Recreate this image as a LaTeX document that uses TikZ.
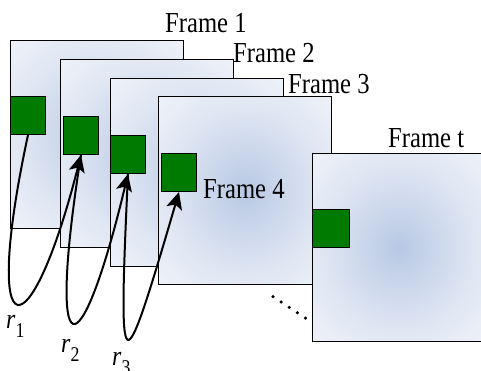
\documentclass[tikz,border=0pt]{standalone}
\usepackage{fontspec}
\setmainfont[FakeStretch=0.85]{Liberation Serif}
\usetikzlibrary{arrows.meta}
\definecolor{fblue}{RGB}{184,200,228}
\definecolor{patchgreen}{RGB}{0,122,0}
\pgfdeclareradialshading{framefade}{\pgfpoint{0bp}{0bp}}{color(0bp)=(fblue); color(22bp)=(fblue!45!white); color(50bp)=(white)}
\newcommand{\rlab}[1]{{\fontsize{28}{28}\selectfont\textit{r}}\raisebox{-9pt}{\fontsize{21}{21}\selectfont #1}}
\tikzset{
  framebox/.style={draw, line width=1.1pt, shade, shading=framefade, minimum width=173pt, minimum height=188pt, anchor=north west, inner sep=0pt},
  patch/.style={draw, line width=1pt, fill=patchgreen, minimum width=35pt, minimum height=38pt, anchor=north west, inner sep=0pt},
  framelabel/.style={anchor=base west, inner sep=0pt, font=\fontsize{29}{30}\selectfont},
  rlabel/.style={anchor=base west, inner sep=0pt},
  loopline/.style={line width=2pt, -{Stealth[length=17pt,width=16pt,inset=4pt]}},
  dotline/.style={line width=3.5pt, line cap=round, dash pattern=on 0pt off 9.74pt}
}
\begin{document}
\begin{tikzpicture}[x=1pt, y=1pt, yscale=-1]
  \useasboundingbox (0,0) rectangle (481,370);
  % Frames 1 to 4 with their patches
  \foreach \i/\fx/\fy/\px/\py in {1/10/40/10/96, 2/60/59/63/116, 3/110/78/110/135, 4/158/96/161/153} {
    \node[framebox] (f\i) at (\fx,\fy) {};
    \node[patch] (g\i) at (\px,\py) {};
  }
  \node[framelabel] (l4) at (203,198) {Frame 4};
  % Frame t
  \node[framebox] (ft) at (312,153) {};
  \node[patch, minimum width=37pt] (gt) at (312,209) {};
  % Labels
  \node[framelabel] (l1) at (165,32) {Frame 1};
  \node[framelabel] (l2) at (233,62) {Frame 2};
  \node[framelabel] (l3) at (288,93) {Frame 3};
  \node[framelabel] (lt) at (388,147) {Frame t};
  % Loops r1, r2, r3
  \draw[loopline] (g1.south) .. controls +(-47.5,221) and +(-51,201) .. (g2.south);
  \draw[loopline] (g2.south) .. controls +(-35,220) and +(-48,201) .. (g3.south);
  \draw[loopline] (g3.south) .. controls +(-10,216) and +(-58,198) .. (g4.south);
  \node[rlabel] (r1) at (6,328) {\rlab{1}};
  \node[rlabel] (r2) at (61,352) {\rlab{2}};
  \node[rlabel] (r3) at (112,365) {\rlab{3}};
  % Dots towards frame t
  \coordinate (dotA) at (273,296.5);
  \coordinate (dotB) at (313.5,323.5);
  \draw[dotline] (dotA) -- (dotB);
\end{tikzpicture}
\end{document}
